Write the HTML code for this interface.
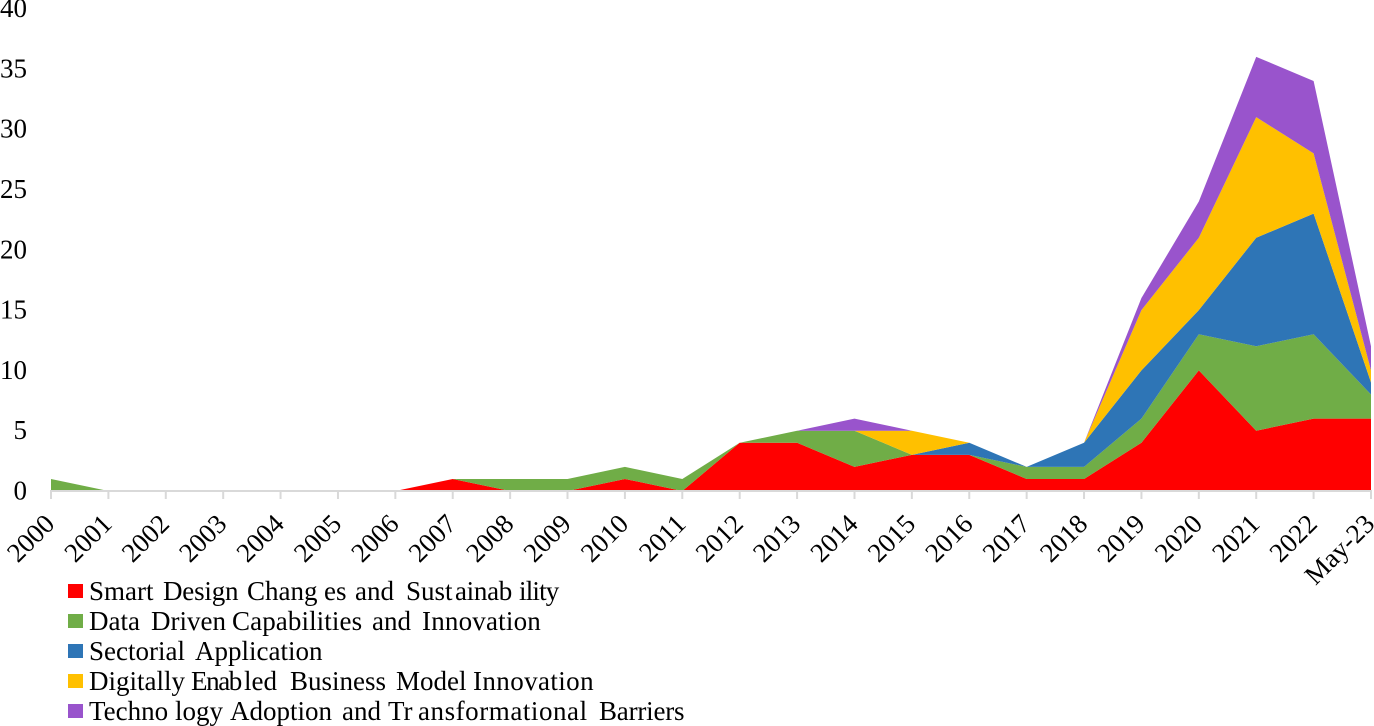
<!DOCTYPE html>
<html lang="en">
<head>
<meta charset="utf-8">
<title>Stacked area chart</title>
<style>
html,body{margin:0;padding:0;background:#fff;width:1374px;height:726px;overflow:hidden}
svg{display:block;font-family:"Liberation Serif",serif;fill:#000}
</style>
</head>
<body>
<svg id="chart" width="1374" height="726" viewBox="0 0 1374 726" xmlns="http://www.w3.org/2000/svg"></svg>
<script>
const categories = ['2000','2001','2002','2003','2004','2005','2006','2007','2008','2009','2010','2011','2012','2013','2014','2015','2016','2017','2018','2019','2020','2021','2022','May-23'];
const smartDesign = [0,0,0,0,0,0,0,1,0,0,1,0,4,4,2,3,3,1,1,4,10,5,6,6];
const dataDriven = [1,0,0,0,0,0,0,0,1,1,1,1,0,1,3,0,0,1,1,2,3,7,7,2];
const sectorial = [0,0,0,0,0,0,0,0,0,0,0,0,0,0,0,0,1,0,2,4,2,9,10,1];
const digitallyEnabled = [0,0,0,0,0,0,0,0,0,0,0,0,0,0,0,2,0,0,0,5,6,10,5,1];
const technologyAdoption = [0,0,0,0,0,0,0,0,0,0,0,0,0,0,1,0,0,0,0,1,3,5,6,2];
const yTicks = [0,5,10,15,20,25,30,35,40];
const seriesColors = ['#ff0000','#70ad47','#2e75b6','#ffc000','#9954cc'];
const seriesKeys = ['smart-design','data-driven','sectorial','digitally-enabled','technology-adoption'];
const legendPieces = [
  [['Smart ',89,0],['Design ',163,-0.2],['Chang',247,0],['es ',324,0],['and ',355,0],['Sust',406,0],['ainab',455,-0.3],['ility',519,-0.8]],
  [['Data ',89,0],['Driven ',151,0],['Capabilities ',232,0.1],['and ',372,0],['Innovation',422,0.2]],
  [['Sectorial ',89,0],['Application',195,0]],
  [['Digitally ',89,0],['Enab',191,-1.4],['led ',244,0],['Business ',290,0],['Model ',396,0],['Innovation',473,0.4]],
  [['Techno',89,0],['logy ',175,0],['Adoption ',230,0],['and ',342,0],['Tr',388,0],['ansformational ',418,0.55],['Barriers',599,-0.2]]
];

const NS = 'http://www.w3.org/2000/svg';
const svg = document.getElementById('chart');
const allSeries = [smartDesign, dataDriven, sectorial, digitallyEnabled, technologyAdoption];
const x = i => 51 + i * (1371 - 51) / (categories.length - 1);
const y = v => 491 - v * 12.06;

function make(tag, attrs, parent) {
  const el = document.createElementNS(NS, tag);
  for (const k in attrs) el.setAttribute(k, attrs[k]);
  (parent || svg).appendChild(el);
  return el;
}

// stacked areas
const running = categories.map(() => 0);
allSeries.forEach((values, s) => {
  const lower = running.slice();
  values.forEach((v, i) => { running[i] += v; });
  const upper = running.slice();
  const pts = [];
  upper.forEach((v, i) => pts.push(x(i).toFixed(2) + ',' + y(v).toFixed(2)));
  for (let i = lower.length - 1; i >= 0; i--) pts.push(x(i).toFixed(2) + ',' + y(lower[i]).toFixed(2));
  const area = make('polygon', { points: pts.join(' '), fill: seriesColors[s] });
  
  
});

// x axis
const axisLine = make('line', { x1: x(0) - 1, x2: x(categories.length - 1) + 1, y1: 491, y2: 491, stroke: '#d9d9d9', 'stroke-width': 2 });



categories.forEach((c, i) => {
  const tick = make('line', { x1: x(i), x2: x(i), y1: 491, y2: 499, stroke: '#d9d9d9', 'stroke-width': 2 });
  
  
  const label = make('text', {
    'font-size': 27,
    'text-anchor': 'end',
    transform: 'translate(' + (x(i) + 5) + ',525.5) rotate(-45)'
  });
  label.textContent = c;
  
  
});

// y axis labels
yTicks.forEach(t => {
  const label = make('text', { 'font-size': 27, 'text-anchor': 'end', x: 27, y: y(t) + 8.5 });
  label.textContent = t;
  
  
});

// legend
legendPieces.forEach((pieces, s) => {
  const ly = 600 + s * 30;
  const swatch = make('rect', { x: 68, y: ly - 16, width: 15, height: 14, fill: seriesColors[s] });
  
  
  const label = make('text', { y: ly, 'font-size': 27 });
  
  
  pieces.forEach(p => {
    const span = make('tspan', { x: p[1], 'letter-spacing': p[2] }, label);
    span.textContent = p[0];
  });
});
</script>
</body>
</html>
